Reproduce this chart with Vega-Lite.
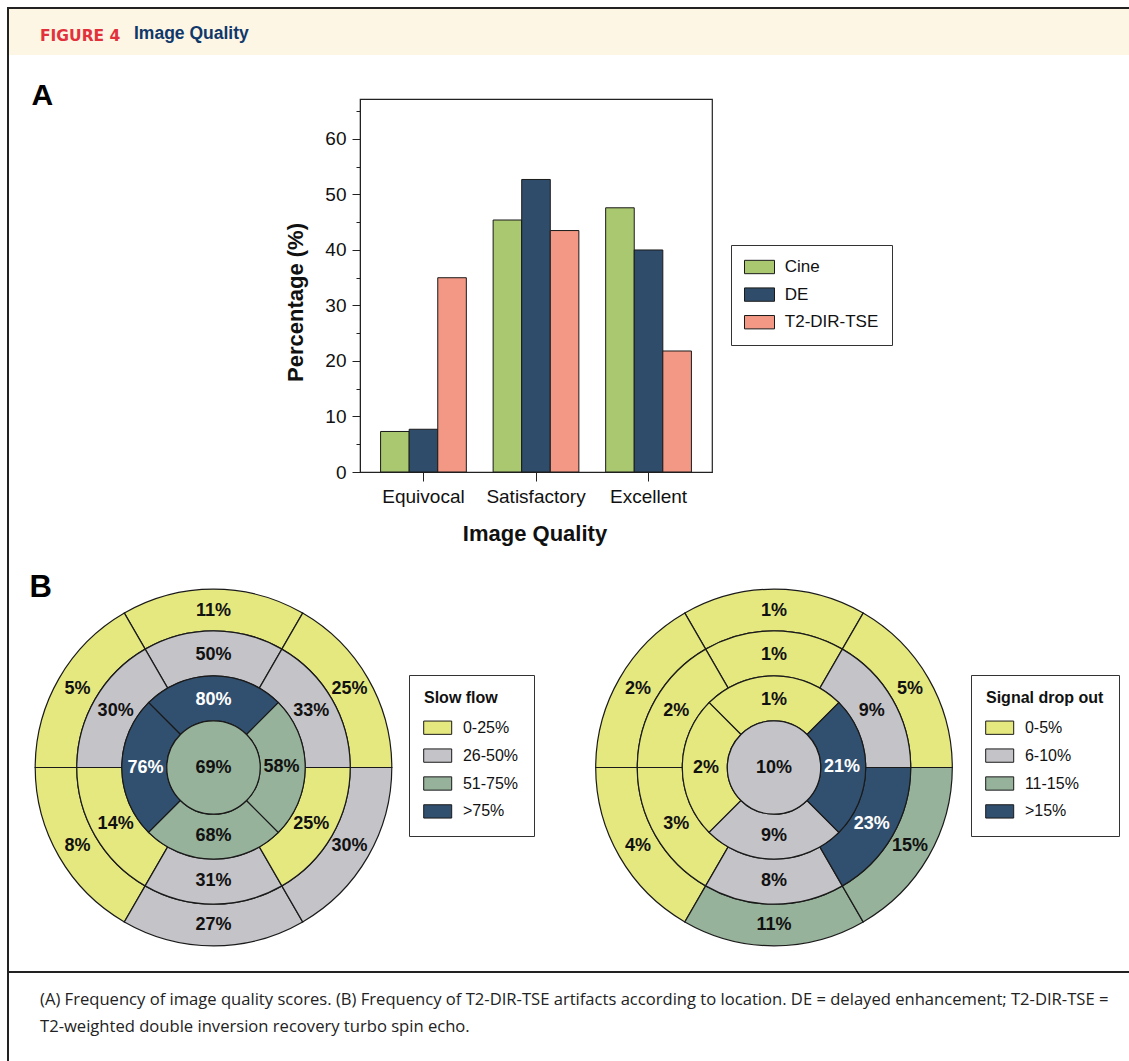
{
  "$schema": "https://vega.github.io/schema/vega-lite/v6.json",
  "padding": {"left": 7, "top": 7, "right": 0, "bottom": 0},
  "background": "white",
  "config": {
    "view": {"stroke": null},
    "font": "Liberation Sans",
    "concat": {"spacing": 0},
    "axis": {"grid": false, "domainColor": "#222", "tickColor": "#222", "labelColor": "#111", "titleColor": "#111", "labelFont": "Liberation Sans", "titleFont": "Liberation Sans"},
    "legend": {"labelFont": "Liberation Sans", "titleFont": "Liberation Sans", "labelColor": "#111", "titleColor": "#111"}
  },
  "datasets": {
    "quality": [
      {"quality": "Equivocal", "sequence": "Cine", "pct": 7.3},
      {"quality": "Equivocal", "sequence": "DE", "pct": 7.7},
      {"quality": "Equivocal", "sequence": "T2-DIR-TSE", "pct": 35.0},
      {"quality": "Satisfactory", "sequence": "Cine", "pct": 45.4},
      {"quality": "Satisfactory", "sequence": "DE", "pct": 52.7},
      {"quality": "Satisfactory", "sequence": "T2-DIR-TSE", "pct": 43.5},
      {"quality": "Excellent", "sequence": "Cine", "pct": 47.6},
      {"quality": "Excellent", "sequence": "DE", "pct": 40.0},
      {"quality": "Excellent", "sequence": "T2-DIR-TSE", "pct": 21.8}
    ],
    "bullseye": [
      {"map": "Slow flow", "ring": "basal", "seg": 1, "value": 0.11, "cat": "0-25%"},
      {"map": "Slow flow", "ring": "basal", "seg": 2, "value": 0.05, "cat": "0-25%"},
      {"map": "Slow flow", "ring": "basal", "seg": 3, "value": 0.08, "cat": "0-25%"},
      {"map": "Slow flow", "ring": "basal", "seg": 4, "value": 0.27, "cat": "26-50%"},
      {"map": "Slow flow", "ring": "basal", "seg": 5, "value": 0.30, "cat": "26-50%"},
      {"map": "Slow flow", "ring": "basal", "seg": 6, "value": 0.25, "cat": "0-25%"},
      {"map": "Slow flow", "ring": "mid", "seg": 7, "value": 0.50, "cat": "26-50%"},
      {"map": "Slow flow", "ring": "mid", "seg": 8, "value": 0.30, "cat": "26-50%"},
      {"map": "Slow flow", "ring": "mid", "seg": 9, "value": 0.14, "cat": "0-25%"},
      {"map": "Slow flow", "ring": "mid", "seg": 10, "value": 0.31, "cat": "26-50%"},
      {"map": "Slow flow", "ring": "mid", "seg": 11, "value": 0.25, "cat": "0-25%"},
      {"map": "Slow flow", "ring": "mid", "seg": 12, "value": 0.33, "cat": "26-50%"},
      {"map": "Slow flow", "ring": "apical", "seg": 13, "value": 0.80, "cat": ">75%"},
      {"map": "Slow flow", "ring": "apical", "seg": 14, "value": 0.76, "cat": ">75%"},
      {"map": "Slow flow", "ring": "apical", "seg": 15, "value": 0.68, "cat": "51-75%"},
      {"map": "Slow flow", "ring": "apical", "seg": 16, "value": 0.58, "cat": "51-75%"},
      {"map": "Slow flow", "ring": "apex", "seg": 17, "value": 0.69, "cat": "51-75%"},
      {"map": "Signal drop out", "ring": "basal", "seg": 1, "value": 0.01, "cat": "0-5%"},
      {"map": "Signal drop out", "ring": "basal", "seg": 2, "value": 0.02, "cat": "0-5%"},
      {"map": "Signal drop out", "ring": "basal", "seg": 3, "value": 0.04, "cat": "0-5%"},
      {"map": "Signal drop out", "ring": "basal", "seg": 4, "value": 0.11, "cat": "11-15%"},
      {"map": "Signal drop out", "ring": "basal", "seg": 5, "value": 0.15, "cat": "11-15%"},
      {"map": "Signal drop out", "ring": "basal", "seg": 6, "value": 0.05, "cat": "0-5%"},
      {"map": "Signal drop out", "ring": "mid", "seg": 7, "value": 0.01, "cat": "0-5%"},
      {"map": "Signal drop out", "ring": "mid", "seg": 8, "value": 0.02, "cat": "0-5%"},
      {"map": "Signal drop out", "ring": "mid", "seg": 9, "value": 0.03, "cat": "0-5%"},
      {"map": "Signal drop out", "ring": "mid", "seg": 10, "value": 0.08, "cat": "6-10%"},
      {"map": "Signal drop out", "ring": "mid", "seg": 11, "value": 0.23, "cat": ">15%"},
      {"map": "Signal drop out", "ring": "mid", "seg": 12, "value": 0.09, "cat": "6-10%"},
      {"map": "Signal drop out", "ring": "apical", "seg": 13, "value": 0.01, "cat": "0-5%"},
      {"map": "Signal drop out", "ring": "apical", "seg": 14, "value": 0.02, "cat": "0-5%"},
      {"map": "Signal drop out", "ring": "apical", "seg": 15, "value": 0.09, "cat": "6-10%"},
      {"map": "Signal drop out", "ring": "apical", "seg": 16, "value": 0.21, "cat": ">15%"},
      {"map": "Signal drop out", "ring": "apex", "seg": 17, "value": 0.10, "cat": "6-10%"}
    ]
  },
  "bounds": "flush",
  "spacing": 0,
  "resolve": {"scale": {"color": "independent"}, "legend": {"color": "independent"}},
  "hconcat": [
    {"data": {"values": []}, "mark": "point", "width": 2, "height": 1054, "view": {"fill": "#222", "stroke": null}},
    {
      "bounds": "full",
      "spacing": 0,
      "resolve": {"scale": {"color": "independent"}, "legend": {"color": "independent"}},
      "vconcat": [
        {"data": {"values": []}, "mark": "point", "width": 1122, "height": 2, "view": {"fill": "#222", "stroke": null}},
        {
          "bounds": "flush",
          "spacing": 0,
          "hconcat": [
            {"data": {"values": []}, "mark": "point", "width": 126, "height": 46, "view": {"fill": "#fdf6e4", "stroke": null},
             "title": {"text": "FIGURE 4", "anchor": "start", "frame": "group", "dx": 31, "offset": -47.3, "baseline": "alphabetic", "font": "DejaVu Sans", "fontSize": 15.5, "fontWeight": "bold", "color": "#e2313b"}},
            {"data": {"values": []}, "mark": "point", "width": 996, "height": 46, "view": {"fill": "#fdf6e4", "stroke": null},
             "title": {"text": "Image Quality", "anchor": "start", "frame": "group", "dx": -1, "offset": -47.3, "baseline": "alphabetic", "font": "Liberation Sans", "fontSize": 17.5, "fontWeight": "bold", "color": "#10386b"}}
          ]
        },
        {
          "bounds": "flush",
          "spacing": 0,
          "resolve": {"scale": {"color": "independent"}, "legend": {"color": "independent"}},
          "hconcat": [
            {"data": {"values": []}, "mark": "point", "width": 351, "height": 513,
             "title": {"text": "A", "anchor": "start", "frame": "group", "dx": 22.5, "offset": -80.4, "baseline": "alphabetic", "font": "Liberation Sans", "fontSize": 30, "fontWeight": "bold", "color": "#000"}},
            {
              "bounds": "flush",
              "spacing": 0,
              "resolve": {"scale": {"color": "independent"}, "legend": {"color": "independent"}},
              "vconcat": [
                {"data": {"values": []}, "mark": "point", "width": 352, "height": 44},
                {
                  "width": 352,
                  "height": 373,
                  "view": {"stroke": "#222", "strokeWidth": 1.2},
                  "data": {"name": "quality"},
                  "mark": {"type": "bar", "stroke": "#1a1a1a", "strokeWidth": 1},
                  "encoding": {
                    "x": {
                      "field": "quality", "type": "nominal",
                      "sort": ["Equivocal", "Satisfactory", "Excellent"],
                      "scale": {"paddingInner": 0.238, "paddingOuter": 0.183},
                      "axis": {"title": "Image Quality", "labelAngle": 0, "labelFontSize": 19, "labelPadding": 6, "tickSize": 9, "titleFontSize": 22, "titleFontWeight": "bold", "titleX": 174.5, "titleY": 68, "titleBaseline": "alphabetic", "titleAlign": "center"}
                    },
                    "xOffset": {"field": "sequence", "type": "nominal", "sort": ["Cine", "DE", "T2-DIR-TSE"], "scale": {"paddingInner": 0, "paddingOuter": 0}},
                    "y": {
                      "field": "pct", "type": "quantitative",
                      "scale": {"domain": [0, 67.2], "nice": false},
                      "axis": {
                        "title": "Percentage (%)",
                        "values": [0, 5, 10, 15, 20, 25, 30, 35, 40, 45, 50, 55, 60, 65],
                        "labelExpr": "datum.value % 10 === 0 ? datum.label : ''",
                        "tickSize": {"condition": {"test": "datum.value % 10 === 0", "value": 8}, "value": 4},
                        "labelFontSize": 19, "labelPadding": 6,
                        "titleFontSize": 22, "titleFontWeight": "bold",
                        "titleAngle": 270, "titleX": -58, "titleY": 203, "titleBaseline": "alphabetic", "titleAlign": "center"
                      }
                    },
                    "color": {
                      "field": "sequence", "type": "nominal",
                      "scale": {"domain": ["Cine", "DE", "T2-DIR-TSE"], "range": ["#aac870", "#2f4d6b", "#f29885"]},
                      "legend": {"title": null, "orient": "none", "legendX": 371, "legendY": 146, "symbolType": "M-2,-0.89H2V0.89H-2Z", "symbolSize": 225, "symbolStrokeColor": "#1a1a1a", "symbolStrokeWidth": 1, "symbolOpacity": 1, "labelFontSize": 17, "labelOffset": 16.8, "padding": 13.5, "rowPadding": 8.6, "symbolOffset": 6.5, "strokeColor": "#333"}
                    }
                  }
                }
              ]
            }
          ]
        },
        {
          "bounds": "flush",
          "spacing": 0,
          "resolve": {"scale": {"color": "independent"}, "legend": {"color": "independent"}},
          "hconcat": [
            {
              "width": 409,
              "height": 399,
              "data": {"name": "bullseye"},
              "transform": [{"filter": "datum.map === 'Slow flow'"}],
              "title": {"text": "B", "anchor": "start", "frame": "group", "dx": 20.5, "offset": -60.4, "baseline": "alphabetic", "font": "Liberation Sans", "fontSize": 31, "fontWeight": "bold", "color": "#000"},
              "resolve": {"scale": {"theta": "independent"}},
              "layer": [
                {
                  "transform": [{"filter": "datum.ring === 'basal'"}],
                  "encoding": {
                    "theta": {"aggregate": "count", "type": "quantitative", "stack": true, "scale": {"domain": [0, 6], "range": [0.5236, -5.7596]}},
                    "order": {"field": "seg", "type": "quantitative"}
                  },
                  "layer": [
                    {"mark": {"type": "arc", "innerRadius": 136.7, "outerRadius": 178.3, "stroke": "#1a1a1a", "strokeWidth": 1.2},
                     "encoding": {"color": {"field": "cat", "type": "nominal", "scale": {"domain": ["0-25%", "26-50%", "51-75%", ">75%"], "range": ["#e5e87e", "#c4c3c8", "#96b29a", "#31506f"]},
                       "legend": {"title": "Slow flow", "orient": "none", "legendX": 400, "legendY": 107, "symbolType": "M-2,-0.95H2V0.95H-2Z", "symbolSize": 196, "symbolStrokeColor": "#1a1a1a", "symbolStrokeWidth": 1, "symbolOpacity": 1, "labelFontSize": 16, "titleFontSize": 16, "titleFontWeight": "bold", "labelOffset": 17.2, "padding": 15, "titlePadding": 13.7, "rowPadding": 9.9, "symbolOffset": 5.7, "strokeColor": "#333"}}}},
                    {"mark": {"type": "text", "radius": 157, "fontSize": 18, "fontWeight": "bold"},
                     "encoding": {"text": {"field": "value", "type": "quantitative", "format": ".0%"}, "detail": {"field": "cat"},
                       "color": {"condition": {"test": "datum.cat === '>75%' || datum.cat === '>15%'", "value": "white"}, "value": "#111"}}}
                  ]
                },
                {
                  "transform": [{"filter": "datum.ring === 'mid'"}],
                  "encoding": {
                    "theta": {"aggregate": "count", "type": "quantitative", "stack": true, "scale": {"domain": [0, 6], "range": [0.5236, -5.7596]}},
                    "order": {"field": "seg", "type": "quantitative"}
                  },
                  "layer": [
                    {"mark": {"type": "arc", "innerRadius": 91.7, "outerRadius": 136.7, "stroke": "#1a1a1a", "strokeWidth": 1.2},
                     "encoding": {"color": {"field": "cat", "type": "nominal", "scale": {"domain": ["0-25%", "26-50%", "51-75%", ">75%"], "range": ["#e5e87e", "#c4c3c8", "#96b29a", "#31506f"]}}}},
                    {"mark": {"type": "text", "radius": 113, "fontSize": 18, "fontWeight": "bold"},
                     "encoding": {"text": {"field": "value", "type": "quantitative", "format": ".0%"}, "detail": {"field": "cat"},
                       "color": {"condition": {"test": "datum.cat === '>75%' || datum.cat === '>15%'", "value": "white"}, "value": "#111"}}}
                  ]
                },
                {
                  "transform": [{"filter": "datum.ring === 'apical'"}],
                  "encoding": {
                    "theta": {"aggregate": "count", "type": "quantitative", "stack": true, "scale": {"domain": [0, 4], "range": [0.7854, -5.4978]}},
                    "order": {"field": "seg", "type": "quantitative"}
                  },
                  "layer": [
                    {"mark": {"type": "arc", "innerRadius": 46.7, "outerRadius": 91.7, "stroke": "#1a1a1a", "strokeWidth": 1.2},
                     "encoding": {"color": {"field": "cat", "type": "nominal", "scale": {"domain": ["0-25%", "26-50%", "51-75%", ">75%"], "range": ["#e5e87e", "#c4c3c8", "#96b29a", "#31506f"]}}}},
                    {"mark": {"type": "text", "radius": 68, "fontSize": 18, "fontWeight": "bold"},
                     "encoding": {"text": {"field": "value", "type": "quantitative", "format": ".0%"}, "detail": {"field": "cat"},
                       "color": {"condition": {"test": "datum.cat === '>75%' || datum.cat === '>15%'", "value": "white"}, "value": "#111"}}}
                  ]
                },
                {
                  "transform": [{"filter": "datum.ring === 'apex'"}],
                  "encoding": {
                    "theta": {"aggregate": "count", "type": "quantitative", "stack": true, "scale": {"domain": [0, 1], "range": [0, 6.2832]}},
                    "order": {"field": "seg", "type": "quantitative"}
                  },
                  "layer": [
                    {"mark": {"type": "arc", "innerRadius": 0, "outerRadius": 46.7, "stroke": "#1a1a1a", "strokeWidth": 1.2},
                     "encoding": {"color": {"field": "cat", "type": "nominal", "scale": {"domain": ["0-25%", "26-50%", "51-75%", ">75%"], "range": ["#e5e87e", "#c4c3c8", "#96b29a", "#31506f"]}}}},
                    {"mark": {"type": "text", "radius": 0, "fontSize": 18, "fontWeight": "bold"},
                     "encoding": {"text": {"field": "value", "type": "quantitative", "format": ".0%"}, "detail": {"field": "cat"},
                       "color": {"condition": {"test": "datum.cat === '>75%' || datum.cat === '>15%'", "value": "white"}, "value": "#111"}}}
                  ]
                }
              ]
            },
            {
              "width": 712,
              "height": 399,
              "data": {"name": "bullseye"},
              "transform": [{"filter": "datum.map === 'Signal drop out'"}],
              "resolve": {"scale": {"theta": "independent"}},
              "layer": [
                {
                  "transform": [{"filter": "datum.ring === 'basal'"}],
                  "encoding": {
                    "theta": {"aggregate": "count", "type": "quantitative", "stack": true, "scale": {"domain": [0, 6], "range": [0.5236, -5.7596]}},
                    "order": {"field": "seg", "type": "quantitative"}
                  },
                  "layer": [
                    {"mark": {"type": "arc", "innerRadius": 136.7, "outerRadius": 178.3, "stroke": "#1a1a1a", "strokeWidth": 1.2},
                     "encoding": {"color": {"field": "cat", "type": "nominal", "scale": {"domain": ["0-5%", "6-10%", "11-15%", ">15%"], "range": ["#e5e87e", "#c4c3c8", "#96b29a", "#31506f"]},
                       "legend": {"title": "Signal drop out", "orient": "none", "legendX": 553, "legendY": 107, "symbolType": "M-2,-0.95H2V0.95H-2Z", "symbolSize": 196, "symbolStrokeColor": "#1a1a1a", "symbolStrokeWidth": 1, "symbolOpacity": 1, "labelFontSize": 16, "titleFontSize": 16, "titleFontWeight": "bold", "labelOffset": 17.2, "padding": 15, "titlePadding": 13.7, "rowPadding": 9.9, "symbolOffset": 5.7, "strokeColor": "#333"}}}},
                    {"mark": {"type": "text", "radius": 157, "fontSize": 18, "fontWeight": "bold"},
                     "encoding": {"text": {"field": "value", "type": "quantitative", "format": ".0%"}, "detail": {"field": "cat"},
                       "color": {"condition": {"test": "datum.cat === '>75%' || datum.cat === '>15%'", "value": "white"}, "value": "#111"}}}
                  ]
                },
                {
                  "transform": [{"filter": "datum.ring === 'mid'"}],
                  "encoding": {
                    "theta": {"aggregate": "count", "type": "quantitative", "stack": true, "scale": {"domain": [0, 6], "range": [0.5236, -5.7596]}},
                    "order": {"field": "seg", "type": "quantitative"}
                  },
                  "layer": [
                    {"mark": {"type": "arc", "innerRadius": 91.7, "outerRadius": 136.7, "stroke": "#1a1a1a", "strokeWidth": 1.2},
                     "encoding": {"color": {"field": "cat", "type": "nominal", "scale": {"domain": ["0-5%", "6-10%", "11-15%", ">15%"], "range": ["#e5e87e", "#c4c3c8", "#96b29a", "#31506f"]}}}},
                    {"mark": {"type": "text", "radius": 113, "fontSize": 18, "fontWeight": "bold"},
                     "encoding": {"text": {"field": "value", "type": "quantitative", "format": ".0%"}, "detail": {"field": "cat"},
                       "color": {"condition": {"test": "datum.cat === '>75%' || datum.cat === '>15%'", "value": "white"}, "value": "#111"}}}
                  ]
                },
                {
                  "transform": [{"filter": "datum.ring === 'apical'"}],
                  "encoding": {
                    "theta": {"aggregate": "count", "type": "quantitative", "stack": true, "scale": {"domain": [0, 4], "range": [0.7854, -5.4978]}},
                    "order": {"field": "seg", "type": "quantitative"}
                  },
                  "layer": [
                    {"mark": {"type": "arc", "innerRadius": 46.7, "outerRadius": 91.7, "stroke": "#1a1a1a", "strokeWidth": 1.2},
                     "encoding": {"color": {"field": "cat", "type": "nominal", "scale": {"domain": ["0-5%", "6-10%", "11-15%", ">15%"], "range": ["#e5e87e", "#c4c3c8", "#96b29a", "#31506f"]}}}},
                    {"mark": {"type": "text", "radius": 68, "fontSize": 18, "fontWeight": "bold"},
                     "encoding": {"text": {"field": "value", "type": "quantitative", "format": ".0%"}, "detail": {"field": "cat"},
                       "color": {"condition": {"test": "datum.cat === '>75%' || datum.cat === '>15%'", "value": "white"}, "value": "#111"}}}
                  ]
                },
                {
                  "transform": [{"filter": "datum.ring === 'apex'"}],
                  "encoding": {
                    "theta": {"aggregate": "count", "type": "quantitative", "stack": true, "scale": {"domain": [0, 1], "range": [0, 6.2832]}},
                    "order": {"field": "seg", "type": "quantitative"}
                  },
                  "layer": [
                    {"mark": {"type": "arc", "innerRadius": 0, "outerRadius": 46.7, "stroke": "#1a1a1a", "strokeWidth": 1.2},
                     "encoding": {"color": {"field": "cat", "type": "nominal", "scale": {"domain": ["0-5%", "6-10%", "11-15%", ">15%"], "range": ["#e5e87e", "#c4c3c8", "#96b29a", "#31506f"]}}}},
                    {"mark": {"type": "text", "radius": 0, "fontSize": 18, "fontWeight": "bold"},
                     "encoding": {"text": {"field": "value", "type": "quantitative", "format": ".0%"}, "detail": {"field": "cat"},
                       "color": {"condition": {"test": "datum.cat === '>75%' || datum.cat === '>15%'", "value": "white"}, "value": "#111"}}}
                  ]
                }
              ]
            },
            {"data": {"values": []}, "mark": "point", "width": 1, "height": 403}
          ]
        },
        {"data": {"values": []}, "mark": "point", "width": 1122, "height": 2, "view": {"fill": "#222", "stroke": null}},
        {"data": {"values": []}, "mark": "point", "width": 1122, "height": 88,
         "title": {"text": ["(A) Frequency of image quality scores. (B) Frequency of T2-DIR-TSE artifacts according to location. DE = delayed enhancement; T2-DIR-TSE =", "T2-weighted double inversion recovery turbo spin echo."], "anchor": "start", "frame": "group", "dx": 31, "offset": -75.6, "baseline": "alphabetic", "font": "Open Sans", "fontSize": 16.6, "fontWeight": "normal", "color": "#222", "lineHeight": 27}}
      ]
    }
  ]
}
